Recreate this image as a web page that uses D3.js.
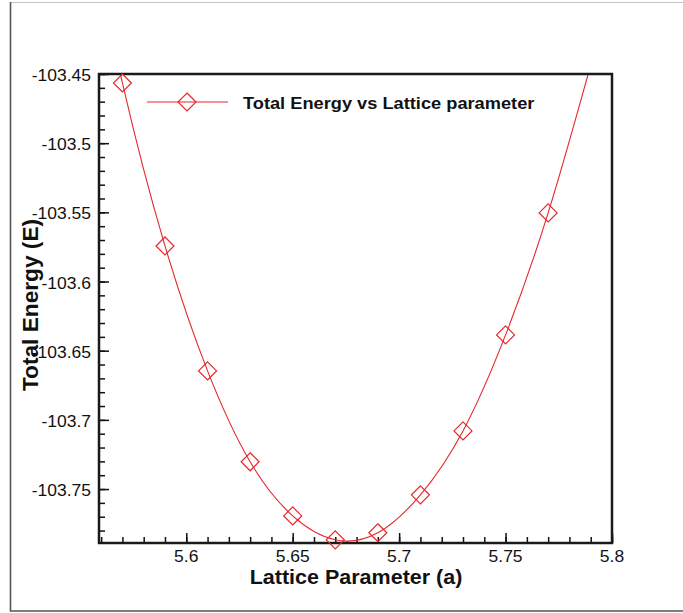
<!DOCTYPE html>
<html>
<head>
<meta charset="utf-8">
<script src="https://cdn.jsdelivr.net/npm/d3@7"></script>
<style>
  html, body { margin: 0; padding: 0; background: #fff; }
  svg { display: block; font-family: "Liberation Sans", Arial, sans-serif; }
</style>
</head>
<body>
<svg id="chart" width="683" height="613"></svg>
<script>
// ---- data ----
const lattice = [5.57, 5.59, 5.61, 5.63, 5.65, 5.67, 5.69, 5.71, 5.73, 5.75, 5.77];
const energy  = [-103.4565, -103.5743, -103.6646, -103.7303, -103.7694, -103.7867,
                 -103.7816, -103.7542, -103.7080, -103.6386, -103.5504];
// fitted curve continues beyond the first/last points (clipped by the frame)
const fitLeadLattice = [5.55];
const fitLeadEnergy  = [-103.311];
const fitTailLattice = [5.79];
const fitTailEnergy  = [-103.4434];

const xMajorTicks = [5.6, 5.65, 5.7, 5.75, 5.8];
const xTickLabels = ["5.6", "5.65", "5.7", "5.75", "5.8"];
const yMajorTicks = [-103.45, -103.5, -103.55, -103.6, -103.65, -103.7, -103.75];
const yTickLabels = ["-103.45", "-103.5", "-103.55", "-103.6", "-103.65", "-103.7", "-103.75"];

const seriesName = "Total Energy vs Lattice parameter";
const xTitle = "Lattice Parameter (a)";
const yTitle = "Total Energy (E)";

// ---- layout ----
const svg = d3.select("#chart");
const L = 99, R = 612, T = 74, B = 543;
const RED = "#e8262b";
const SX = 1.06; // slight horizontal text stretch seen in the reference

const x = d3.scaleLinear().domain([5.559, 5.8]).range([L, R]);
const y = d3.scaleLinear().domain([-103.789, -103.45]).range([B, T]);

// outer frame
svg.append("line").attr("x1", 10).attr("x2", 683).attr("y1", 2.5).attr("y2", 2.5)
  .attr("stroke", "#c4c4c4").attr("stroke-width", 1.2);
svg.append("line").attr("x1", 10.5).attr("x2", 10.5).attr("y1", 2).attr("y2", 611.5)
  .attr("stroke", "#555").attr("stroke-width", 1.6);
svg.append("line").attr("x1", 10).attr("x2", 683).attr("y1", 611).attr("y2", 611)
  .attr("stroke", "#555").attr("stroke-width", 1.6);

function stretchedText(g, tx, ty, rot, txt, size, weight, anchor) {
  return g.append("text")
    .attr("transform", `translate(${tx},${ty})` + (rot ? ` rotate(${rot})` : "") + ` scale(${SX},1)`)
    .attr("text-anchor", anchor)
    .attr("font-size", size)
    .attr("font-weight", weight)
    .attr("fill", "#111")
    .text(txt);
}

// y title first (tick labels overlap it, as in the reference)
stretchedText(svg, 38, 305, -90, yTitle, 21.4, "bold", "middle");

// clip for the curve
svg.append("clipPath").attr("id", "plotclip")
  .append("rect").attr("x", L).attr("y", T).attr("width", R - L).attr("height", B - T);

// axes with inward ticks
const xMinor = d3.range(5.56, 5.8001, 0.01).map(v => +v.toFixed(2));
const yMinor = d3.range(-103.78, -103.4499, 0.01).map(v => +v.toFixed(2));

const xAxisMinor = d3.axisBottom(x).tickValues(xMinor).tickSize(-6).tickFormat("");
const xAxisMajor = d3.axisBottom(x).tickValues(xMajorTicks).tickSize(-10).tickFormat("");
const yAxisMinor = d3.axisLeft(y).tickValues(yMinor).tickSize(-6).tickFormat("");
const yAxisMajor = d3.axisLeft(y).tickValues(yMajorTicks).tickSize(-10).tickFormat("");

[xAxisMinor, xAxisMajor].forEach(a => {
  const g = svg.append("g").attr("transform", `translate(0,${B})`).call(a);
  g.select(".domain").remove();
  g.selectAll(".tick line").attr("stroke", "#111").attr("stroke-width", 1.5);
});
[yAxisMinor, yAxisMajor].forEach(a => {
  const g = svg.append("g").attr("transform", `translate(${L},0)`).call(a);
  g.select(".domain").remove();
  g.selectAll(".tick line").attr("stroke", "#111").attr("stroke-width", 1.5);
});

// tick labels
const xl = svg.append("g");
xMajorTicks.forEach((v, i) => stretchedText(xl, x(v), 562, 0, xTickLabels[i], 16.5, "normal", "middle"));
const yl = svg.append("g");
yMajorTicks.forEach((v, i) => stretchedText(yl, 91, y(v) + 7, 0, yTickLabels[i], 16.5, "normal", "end"));

// x title
stretchedText(svg, 356, 584, 0, xTitle, 20.3, "bold", "middle");

// curve
const curveX = fitLeadLattice.concat(lattice, fitTailLattice);
const curveY = fitLeadEnergy.concat(energy, fitTailEnergy);
const pts = curveX.map((v, i) => [v, curveY[i]]);
svg.append("path")
  .attr("clip-path", "url(#plotclip)")
  .attr("d", d3.line().x(d => x(d[0])).y(d => y(d[1])).curve(d3.curveNatural)(pts))
  .attr("fill", "none").attr("stroke", RED).attr("stroke-width", 1.1);

// plot frame
svg.append("rect").attr("x", L).attr("y", T).attr("width", R - L).attr("height", B - T)
  .attr("fill", "none").attr("stroke", "#1a1a1a").attr("stroke-width", 2.5);

// markers
const diamond = (cx, cy, r) => `M${cx},${cy - r}L${cx + r},${cy}L${cx},${cy + r}L${cx - r},${cy}Z`;
svg.append("g").selectAll("path").data(lattice.map((v, i) => [v, energy[i]])).join("path")
  .attr("d", d => diamond(x(d[0]), y(d[1]), 9))
  .attr("fill", "none").attr("stroke", RED).attr("stroke-width", 1.2);

// legend
const ly = 102;
svg.append("line").attr("x1", 147).attr("x2", 228).attr("y1", ly).attr("y2", ly)
  .attr("stroke", RED).attr("stroke-width", 1.1);
svg.append("path").attr("d", diamond(187, ly, 9))
  .attr("fill", "none").attr("stroke", RED).attr("stroke-width", 1.2);
stretchedText(svg, 243, 109, 0, seriesName, 17.2, "bold", "start");
</script>
</body>
</html>
